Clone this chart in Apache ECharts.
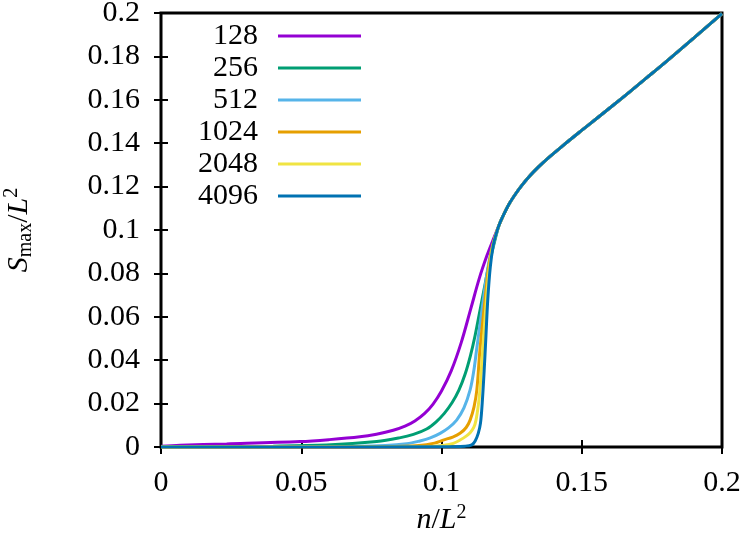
<!DOCTYPE html>
<html>
<head>
<meta charset="utf-8">
<title>S_max / L^2</title>
<script src="https://cdn.jsdelivr.net/npm/echarts@6/dist/echarts.min.js"></script>
<style>
    html, body { margin: 0; padding: 0; background: #fff; }
    #chart { width: 750px; height: 545px; }
</style>
</head>
<body>
<div id="chart"></div>
<script>
'use strict';

// system sizes (legend labels)
let sizes = ['128', '256', '512', '1024', '2048', '4096'];
let colors = ['#9400d3', '#009e73', '#56b4e9', '#e69f00', '#f0e442', '#0072b2'];

// [n/L^2, Smax/L^2], one list per size
let n128 = [[0, 0.0003], [0.0068, 0.0008], [0.0234, 0.0014], [0.0496, 0.0025], [0.06, 0.0034],
    [0.0709, 0.0047], [0.0768, 0.0059], [0.0828, 0.0077], [0.087, 0.0096], [0.0905, 0.012],
    [0.094, 0.0155], [0.097, 0.0198], [0.1, 0.0258], [0.1035, 0.0352], [0.107, 0.048],
    [0.1105, 0.064], [0.1135, 0.0778], [0.1162, 0.0882], [0.1184, 0.0955]];
let n256 = [[0, 0.0001], [0.04, 0.0004], [0.059, 0.0009], [0.0769, 0.0025], [0.085, 0.0042],
    [0.09, 0.0058], [0.0947, 0.0083], [0.098, 0.0115], [0.101, 0.0155], [0.1038, 0.0205],
    [0.1062, 0.0262], [0.1084, 0.0335], [0.1103, 0.042], [0.112, 0.0515], [0.1138, 0.0635],
    [0.1156, 0.0755], [0.117, 0.0845], [0.1187, 0.0935]];
let n512 = [[0, 0], [0.06, 0.0002], [0.08, 0.0007], [0.0876, 0.0015], [0.0923, 0.0028],
    [0.096, 0.0042], [0.0995, 0.0063], [0.1025, 0.0088], [0.1054, 0.0124], [0.108, 0.018],
    [0.1102, 0.0263], [0.1115, 0.035], [0.1125, 0.0447], [0.1149, 0.0677], [0.1162, 0.08],
    [0.1175, 0.089], [0.1189, 0.0958]];
let n1024 = [[0, 0], [0.08, 0.0002], [0.092, 0.0007], [0.0975, 0.0018], [0.1006, 0.0032],
    [0.104, 0.0046], [0.1066, 0.0063], [0.1088, 0.009], [0.1102, 0.0124], [0.1116, 0.0185],
    [0.1126, 0.0263], [0.1137, 0.0447], [0.1155, 0.0677], [0.1167, 0.082], [0.1178, 0.0905],
    [0.119, 0.0965]];
let n2048 = [[0, 0], [0.095, 0.0002], [0.101, 0.0008], [0.1042, 0.0017], [0.1066, 0.0032],
    [0.1088, 0.005], [0.1102, 0.0066], [0.1115, 0.009], [0.1123, 0.0124], [0.1132, 0.02],
    [0.1137, 0.0263], [0.1147, 0.0447], [0.116, 0.0677], [0.117, 0.082], [0.118, 0.0905],
    [0.1191, 0.0967]];
let n4096 = [[0, 0], [0.1, 0.0001], [0.1085, 0.0004], [0.1108, 0.001], [0.112, 0.0028],
    [0.1131, 0.0063], [0.1139, 0.011], [0.1145, 0.02], [0.1152, 0.035], [0.1158, 0.05],
    [0.1165, 0.068], [0.1174, 0.083], [0.1184, 0.0925], [0.1194, 0.0978]];

// above the transition all sizes fall on the same curve
let collapse = [[0.1205, 0.1022], [0.122, 0.1066], [0.1238, 0.1113], [0.1256, 0.1151],
    [0.1285, 0.1203], [0.1316, 0.1251], [0.1345, 0.129], [0.1375, 0.1326], [0.1434, 0.139],
    [0.1494, 0.1453], [0.1553, 0.1514], [0.1613, 0.1576], [0.1672, 0.1638], [0.1732, 0.1702],
    [0.18, 0.1775], [0.19, 0.1885], [0.2, 0.1997]];

let curves = [n128, n256, n512, n1024, n2048, n4096];

let xTicks = {min: 0, max: 0.2, interval: 0.05};
let yTicks = {min: 0, max: 0.2, interval: 0.02};

let font = 'Liberation Serif';

let richName = {
    i: {fontFamily: font, fontSize: 30, fontStyle: 'italic', color: '#000', lineHeight: 34},
    r: {fontFamily: font, fontSize: 30, color: '#000', lineHeight: 34},
    sup: {fontFamily: font, fontSize: 20, color: '#000', lineHeight: 21, verticalAlign: 'top'},
    sub: {fontFamily: font, fontSize: 20, color: '#000', lineHeight: 21, verticalAlign: 'bottom'}
};

function makeAxis(pos, ticks, showLabel) {
    return {
        type: 'value',
        position: pos,
        min: ticks.min,
        max: ticks.max,
        interval: ticks.interval,
        axisLine: {show: false},
        axisTick: {show: true, inside: true, length: 7, lineStyle: {color: '#000', width: 2}},
        splitLine: {show: false},
        axisLabel: {
            show: showLabel,
            color: '#000',
            fontFamily: font,
            fontSize: 30,
            margin: 21
        }
    };
}

let chart = echarts.init(document.getElementById('chart'));

let xMain = makeAxis('bottom', xTicks, true);
xMain.name = '{i|n}{r|/}{i|L}{sup|2}';
xMain.nameLocation = 'middle';
xMain.nameGap = 55;
xMain.nameTextStyle = {rich: richName};

let yMain = makeAxis('left', yTicks, true);
yMain.name = '{i|S}{sub|max}{r|/}{i|L}{sup|2}';
yMain.nameLocation = 'middle';
yMain.nameRotate = 90;
yMain.nameGap = 125;
yMain.nameTextStyle = {rich: richName};

let series = [];
for (let i = 0; i < sizes.length; i++) {
    series.push({
        name: sizes[i],
        type: 'line',
        xAxisIndex: 0,
        yAxisIndex: 0,
        data: curves[i].concat(collapse),
        showSymbol: false,
        smooth: 0.35,
        lineStyle: {color: colors[i], width: 3},
        itemStyle: {color: colors[i]},
        z: 2 + i
    });
}

chart.setOption({
    animation: false,
    backgroundColor: '#fff',
    grid: {
        left: 161,
        right: 28,
        top: 13,
        bottom: 98,
        show: true,
        borderColor: '#000',
        borderWidth: 3,
        backgroundColor: 'transparent',
        outerBoundsMode: 'none'
    },
    legend: {
        data: sizes,
        orient: 'vertical',
        align: 'right',
        left: 193,
        top: 16,
        itemGap: 2,
        itemWidth: 83,
        itemHeight: 3,
        icon: 'rect',
        selectedMode: false,
        textStyle: {
            color: '#000',
            fontFamily: font,
            fontSize: 30,
            padding: [0, 15, 0, 0]
        }
    },
    xAxis: [xMain, makeAxis('top', xTicks, false)],
    yAxis: [yMain, makeAxis('right', yTicks, false)],
    series: series
});
</script>
</body>
</html>
